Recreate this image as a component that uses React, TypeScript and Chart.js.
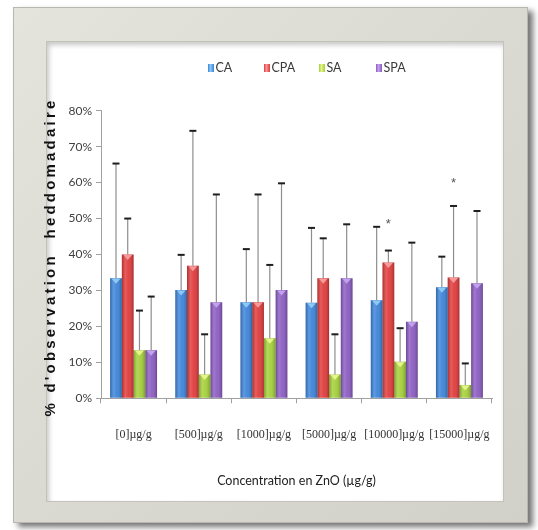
import React, { useEffect, useRef } from 'react';
import { Chart, registerables } from 'chart.js';
Chart.register(...registerables);

const categories = ['[0]µg/g', '[500]µg/g', '[1000]µg/g', '[5000]µg/g', '[10000]µg/g', '[15000]µg/g'];
const seriesNames = ['CA', 'CPA', 'SA', 'SPA'];

const caValues = [33.4, 30.1, 26.7, 26.6, 27.3, 30.9];
const cpaValues = [40.0, 36.9, 26.7, 33.4, 37.8, 33.6];
const saValues = [13.4, 6.6, 16.7, 6.6, 10.2, 3.7];
const spaValues = [13.4, 26.7, 30.1, 33.4, 21.3, 32.0];

const caSD = [31.9, 9.8, 14.8, 20.8, 20.4, 8.5];
const cpaSD = [10.0, 37.5, 30.0, 11.1, 3.3, 19.9];
const saSD = [11.0, 11.2, 20.4, 11.2, 9.3, 6.0];
const spaSD = [14.9, 30.0, 29.7, 15.0, 22.0, 20.1];

// significance stars placed above CPA bars
const cpaStars = [null, null, null, null, 48.9, 60.2];

const yTicks = [0, 10, 20, 30, 40, 50, 60, 70, 80];

const baseColors = ['#3b83d9', '#e03a3a', '#a3cf38', '#8a5bc1'];
const lightColors = ['#8ccaf5', '#f59a9a', '#e6f58a', '#c2a2ec'];

const NARROW = "Lato, 'DejaVu Sans Condensed', sans-serif";
const SERIF = "'Liberation Serif', 'DejaVu Serif', serif";
const legendX = [208, 264, 319, 376];

const valuesList = [caValues, cpaValues, saValues, spaValues];
const sdList = [caSD, cpaSD, saSD, spaSD];

const decorPlugin = {
  id: 'decor',
  afterDatasetsDraw(chart: any) {
    const ctx = chart.ctx as CanvasRenderingContext2D;
    const yScale = chart.scales.y;
    ctx.save();
    chart.data.datasets.forEach((_ds: any, di: number) => {
      const meta = chart.getDatasetMeta(di);
      meta.data.forEach((bar: any) => {
        const { x, y, base, width } = bar.getProps(['x', 'y', 'base', 'width'], true);
        const left = x - width / 2;
        const right = x + width / 2;
        const g = ctx.createLinearGradient(left, 0, right, 0);
        g.addColorStop(0, 'rgba(0,0,0,0.22)');
        g.addColorStop(0.3, 'rgba(255,255,255,0.18)');
        g.addColorStop(0.55, 'rgba(255,255,255,0.06)');
        g.addColorStop(1, 'rgba(0,0,0,0.25)');
        ctx.fillStyle = g;
        ctx.fillRect(left, y, width, base - y);
        ctx.fillStyle = lightColors[di];
        ctx.beginPath();
        ctx.moveTo(left + 1.5, y + 0.5);
        ctx.lineTo(right - 1.5, y + 0.5);
        ctx.lineTo(x, y + 5.5);
        ctx.closePath();
        ctx.fill();
      });
    });
    chart.data.datasets.forEach((_ds: any, di: number) => {
      const meta = chart.getDatasetMeta(di);
      meta.data.forEach((bar: any, i: number) => {
        const { x, y } = bar.getProps(['x', 'y'], true);
        const top = yScale.getPixelForValue(valuesList[di][i] + sdList[di][i]);
        ctx.strokeStyle = '#8e8e8e';
        ctx.lineWidth = 1.2;
        ctx.beginPath();
        ctx.moveTo(x, y);
        ctx.lineTo(x, top);
        ctx.stroke();
        ctx.strokeStyle = '#1e1e1e';
        ctx.lineWidth = 2;
        ctx.beginPath();
        ctx.moveTo(x - 3.5, top);
        ctx.lineTo(x + 3.5, top);
        ctx.stroke();
      });
    });
    const cpaMeta = chart.getDatasetMeta(1);
    ctx.fillStyle = '#555';
    ctx.font = "13px 'Liberation Sans', sans-serif";
    ctx.textAlign = 'center';
    ctx.textBaseline = 'middle';
    cpaStars.forEach((s, i) => {
      if (s == null) return;
      const x = cpaMeta.data[i].x;
      ctx.fillText('*', x, yScale.getPixelForValue(s) + 2);
    });
    ctx.restore();
  },
  afterDraw(chart: any) {
    const ctx = chart.ctx as CanvasRenderingContext2D;
    ctx.save();
    ctx.font = `12.5px ${NARROW}`;
    ctx.textBaseline = 'middle';
    ctx.textAlign = 'left';
    const ly = 68;
    seriesNames.forEach((name, i) => {
      const lx = legendX[i];
      const g = ctx.createLinearGradient(lx, 0, lx + 6, 0);
      g.addColorStop(0, baseColors[i]);
      g.addColorStop(0.4, lightColors[i]);
      g.addColorStop(1, baseColors[i]);
      ctx.fillStyle = g;
      ctx.fillRect(lx, ly - 4, 6, 8);
      ctx.fillStyle = '#3a3a3a';
      ctx.fillText(name, lx + 7.5, ly);
    });
    ctx.translate(51, 257);
    ctx.rotate(-Math.PI / 2);
    ctx.font = "bold 15px 'Liberation Sans', Arial, sans-serif";
    (ctx as any).letterSpacing = '3.2px';
    ctx.fillStyle = '#111';
    ctx.textAlign = 'center';
    ctx.textBaseline = 'middle';
    ctx.fillText("% d'observation  heddomadaire", 0, 0);
    ctx.restore();
  },
};

export default function App() {
  const ref = useRef<HTMLCanvasElement>(null);
  useEffect(() => {
    const chart = new Chart(ref.current as HTMLCanvasElement, {
      type: 'bar',
      data: {
        labels: categories,
        datasets: seriesNames.map((name, i) => ({
          label: name,
          data: valuesList[i],
          backgroundColor: baseColors[i],
          borderWidth: 0,
          categoryPercentage: 0.72,
          barPercentage: 1,
        })),
      },
      options: {
        responsive: false,
        animation: false,
        layout: { padding: { left: 60, top: 110.7, right: 46, bottom: 41.7 } },
        plugins: { legend: { display: false }, tooltip: { enabled: false }, title: { display: false } },
        scales: {
          x: {
            ticks: { font: { family: SERIF, size: 12 }, color: '#333', padding: 24, maxRotation: 0, minRotation: 0, autoSkip: false },
            grid: { offset: true, drawOnChartArea: false, tickLength: 5, color: '#a0a0a0' },
            border: { display: true, color: '#a0a0a0' },
            title: {
              display: true,
              text: 'Concentration en ZnO (µg/g)',
              font: { family: NARROW, size: 12.5 },
              color: '#222',
              padding: { top: 0, bottom: 0 },
            },
            afterFit: (s: any) => { s.height = 90; },
          },
          y: {
            min: 0,
            max: 80,
            afterBuildTicks: (s: any) => { s.ticks = yTicks.map((v) => ({ value: v })); },
            ticks: { font: { family: NARROW, size: 12 }, color: '#404040', padding: 4, callback: (v: any) => v + '%' },
            grid: { drawOnChartArea: false, tickLength: 5, color: '#a0a0a0' },
            border: { display: true, color: '#a0a0a0' },
            afterFit: (s: any) => { s.width = 41; },
          },
        },
      },
      plugins: [decorPlugin],
    } as any);
    return () => chart.destroy();
  }, []);

  return (
    <div style={{ position: 'fixed', left: 0, top: 0, width: 538, height: 530, background: '#fff', overflow: 'hidden' }}>
      <div
        style={{
          position: 'absolute', left: 13, top: 7, width: 513, height: 514,
          background: 'linear-gradient(135deg, #e4e3dc 0%, #d9d8d0 60%, #d2d1c9 100%)',
          border: '1px solid #b8b7af',
          boxShadow: '5px 4px 6px rgba(0,0,0,0.55)',
        }}
      />
      <div
        style={{
          position: 'absolute', left: 46, top: 41, width: 456, height: 459,
          background: '#fff',
          border: '1px solid #c4c3bb',
          boxShadow: 'inset 2px 3px 5px rgba(0,0,0,0.22)',
        }}
      />
      <canvas ref={ref} width={538} height={530} style={{ position: 'absolute', left: 0, top: 0, display: 'block' }} />
    </div>
  );
}
